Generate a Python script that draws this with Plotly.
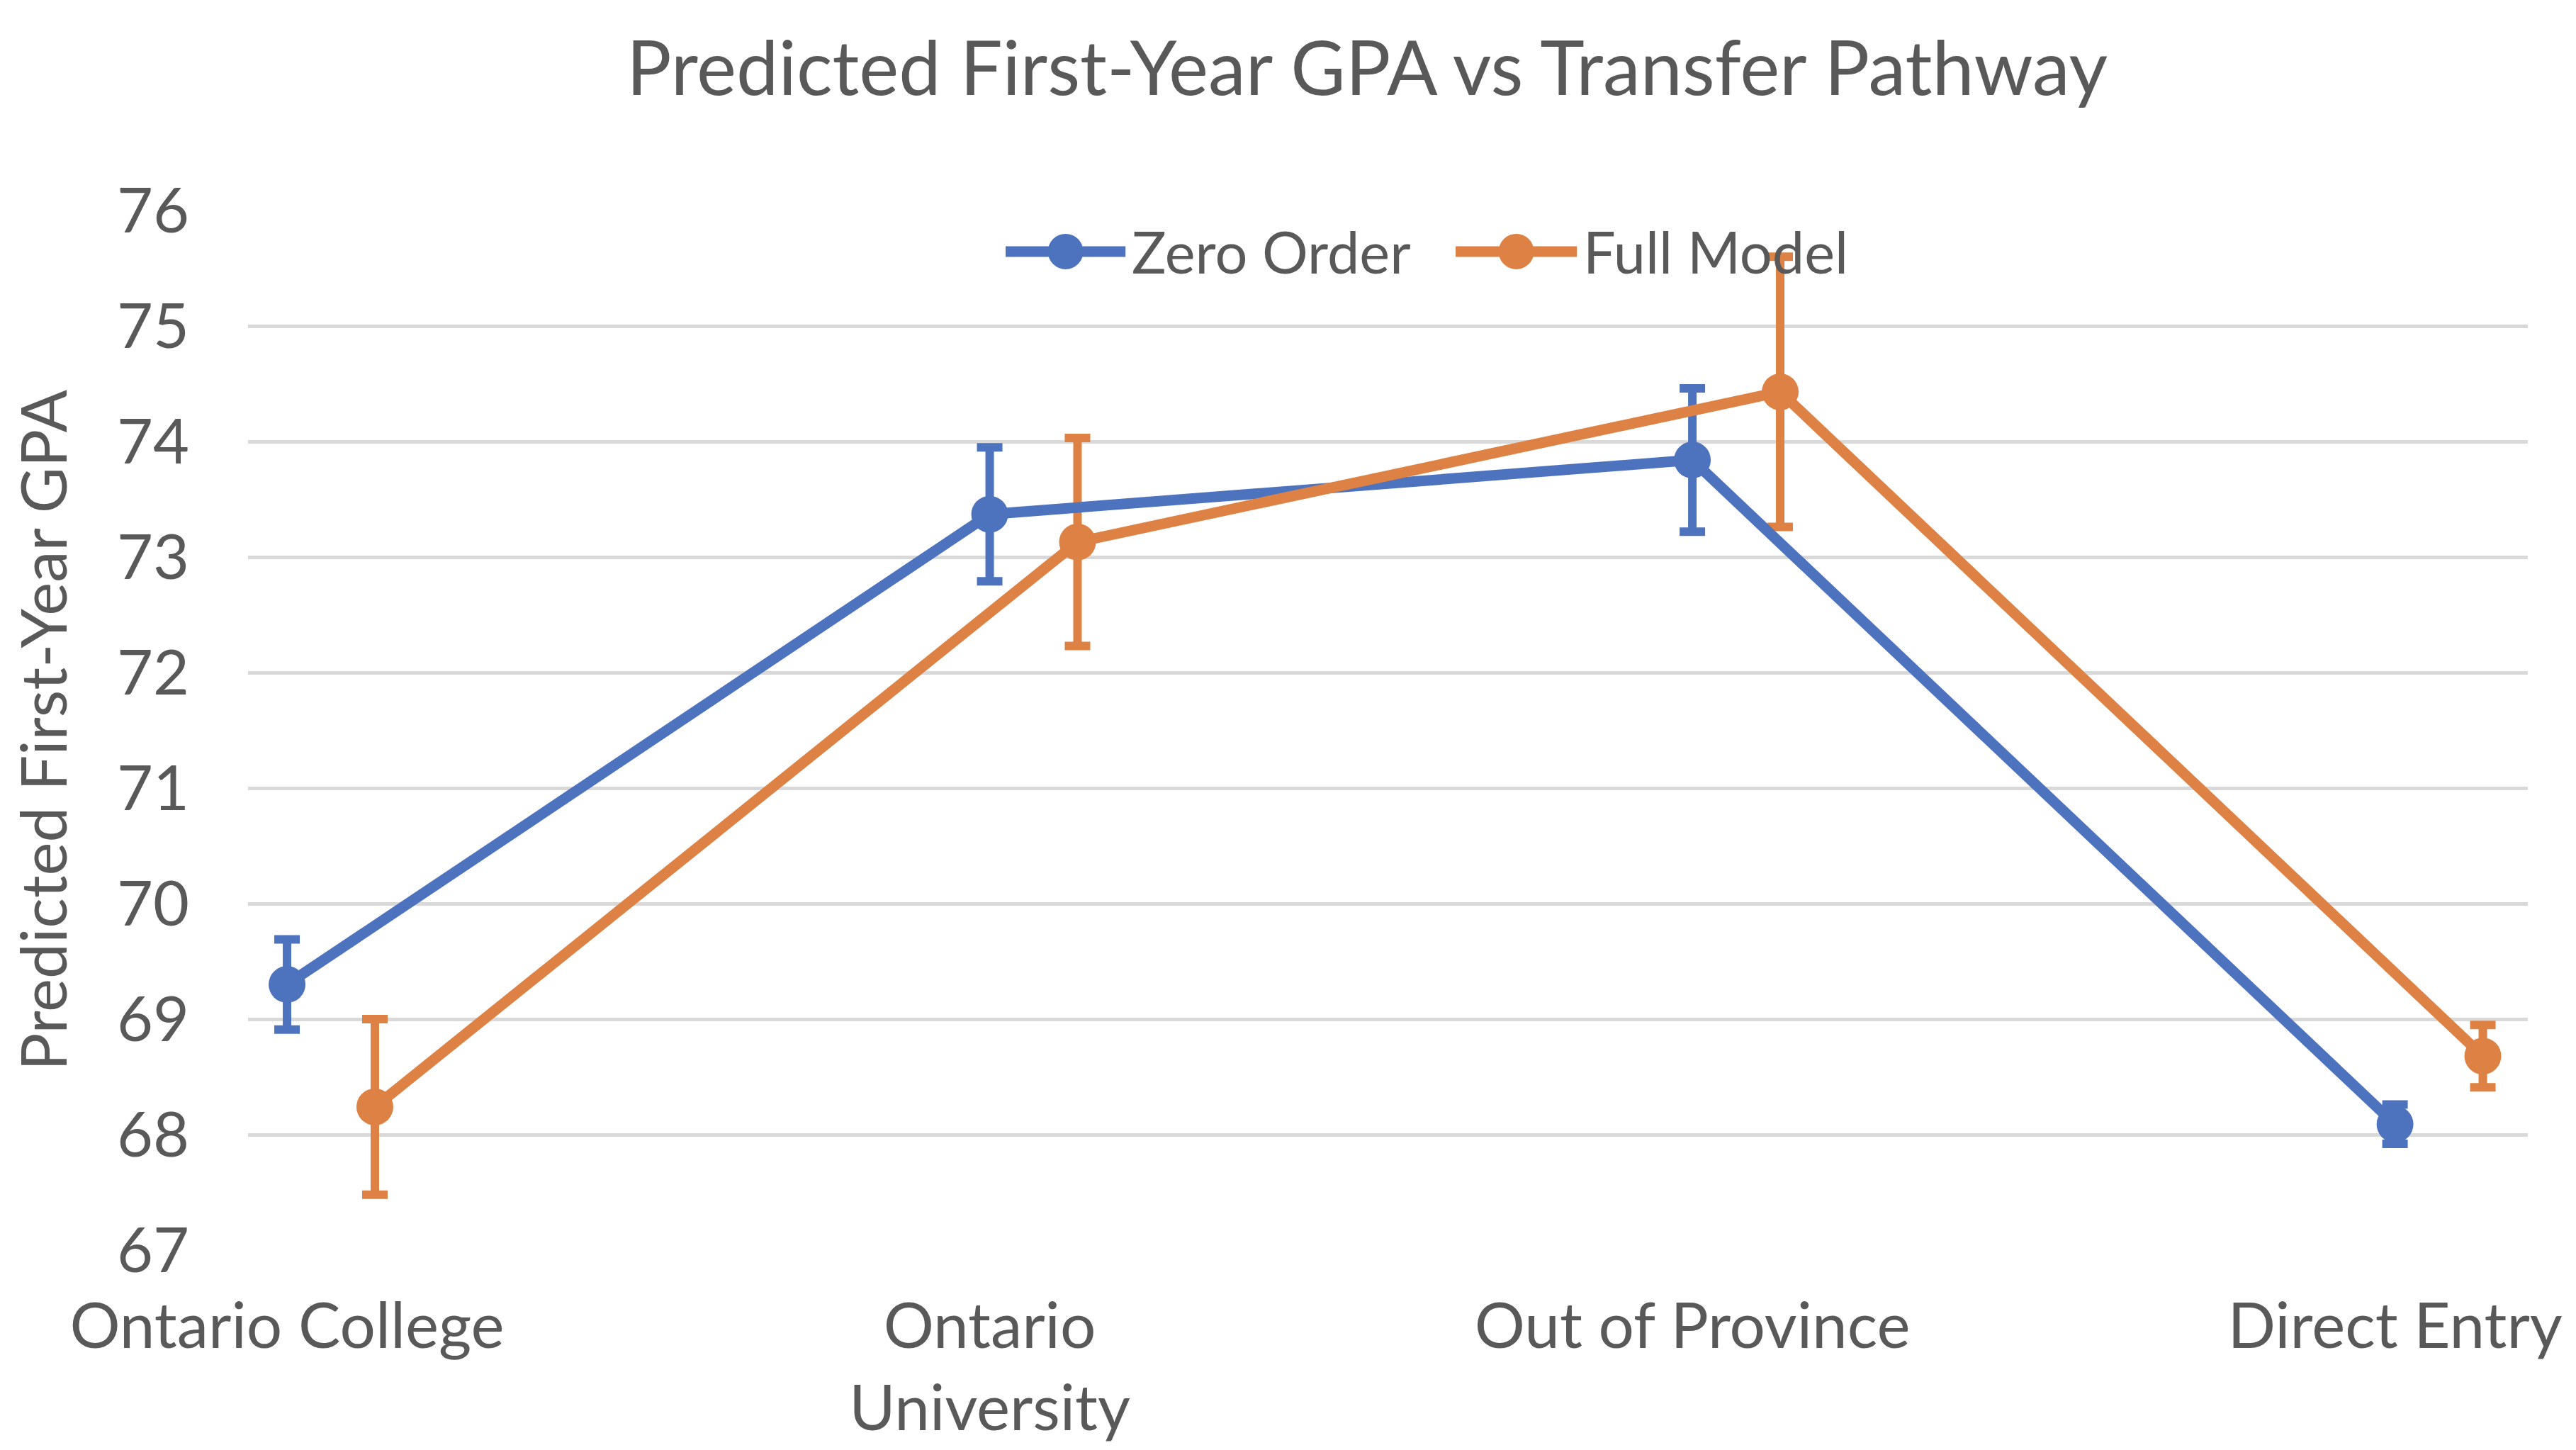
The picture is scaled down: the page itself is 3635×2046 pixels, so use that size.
import plotly.graph_objects as go

# ---- data ----
categories = ["Ontario College", "Ontario<br>University", "Out of Province", "Direct Entry"]
category_positions = [1, 2, 3, 4]
full_model_offset = 0.125

zero_order = [69.30, 73.37, 73.84, 68.09]
zero_order_err = [0.39, 0.58, 0.62, 0.17]

full_model = [68.24, 73.13, 74.43, 68.68]
full_model_err = [0.76, 0.90, 1.17, 0.27]

y_ticks = [67, 68, 69, 70, 71, 72, 73, 74, 75, 76]

# ---- style ----
BLUE = "#4E73BE"
ORANGE = "#DD8244"
TEXT = "#595959"
GRID = "#D9D9D9"
FONT = "Lato"

x_zero = category_positions
x_full = [p + full_model_offset for p in category_positions]

fig = go.Figure()

# error bars first (drawn beneath the lines)
for xs, ys, errs, col in [
    (x_zero, zero_order, zero_order_err, BLUE),
    (x_full, full_model, full_model_err, ORANGE),
]:
    fig.add_trace(go.Scatter(
        x=xs, y=ys, mode="markers", showlegend=False, hoverinfo="skip",
        marker=dict(size=1, opacity=0),
        error_y=dict(type="data", array=errs, visible=True,
                     color=col, thickness=12, width=18),
    ))

fig.add_trace(go.Scatter(
    x=x_zero, y=zero_order, mode="lines+markers", name="Zero Order",
    line=dict(color=BLUE, width=15), marker=dict(color=BLUE, size=52),
    showlegend=False,
))
fig.add_trace(go.Scatter(
    x=x_full, y=full_model, mode="lines+markers", name="Full Model",
    line=dict(color=ORANGE, width=15), marker=dict(color=ORANGE, size=52),
    showlegend=False,
))

# custom legend (large symbols like the original)
leg_y = 0.9605
legend_items = [
    ("Zero Order", BLUE, 0.3323, 0.3849, 0.3586, 0.387),
    ("Full Model", ORANGE, 0.5297, 0.5829, 0.5563, 0.585),
]
shapes = []
annotations = []
for label, col, x0, x1, xc, xt in legend_items:
    shapes.append(dict(type="line", xref="paper", yref="paper",
                       x0=x0, x1=x1, y0=leg_y, y1=leg_y,
                       line=dict(color=col, width=15)))
    shapes.append(dict(type="circle", xref="paper", yref="paper",
                       xsizemode="pixel", ysizemode="pixel",
                       xanchor=xc, yanchor=leg_y,
                       x0=-25, x1=25, y0=-25, y1=25,
                       fillcolor=col, line=dict(width=0)))
    annotations.append(dict(text=label, xref="paper", yref="paper",
                            x=xt, y=leg_y, xanchor="left", yanchor="middle",
                            showarrow=False,
                            font=dict(family=FONT, size=81, color=TEXT)))

fig.update_layout(
    width=3635, height=2046,
    paper_bgcolor="white", plot_bgcolor="white",
    margin=dict(l=350, r=68, t=297, b=282, autoexpand=False),
    font=dict(family=FONT, color=TEXT, size=88),
    title=dict(text="Predicted First-Year GPA vs Transfer Pathway",
               x=0.5307, xref="container", xanchor="center",
               y=0.9526, yref="container", yanchor="middle",
               font=dict(family=FONT, size=106, color=TEXT)),
    xaxis=dict(
        range=[0.9445, 4.189], automargin=False,
        tickmode="array", tickvals=category_positions, ticktext=categories,
        showgrid=False, zeroline=False, showline=False, ticks="",
        tickfont=dict(family=FONT, size=89, color=TEXT),
        ticklabelstandoff=48,
    ),
    yaxis=dict(
        range=[67, 76], automargin=False,
        tickmode="array", tickvals=y_ticks,
        showgrid=True, gridcolor=GRID, gridwidth=5,
        zeroline=False, showline=False, ticks="",
        tickfont=dict(family=FONT, size=88, color=TEXT),
        ticklabelstandoff=82,
        title=dict(text="Predicted First-Year GPA",
                   font=dict(family=FONT, size=89, color=TEXT),
                   standoff=40),
    ),
    shapes=shapes,
    annotations=annotations,
    showlegend=False,
)

fig.write_html("out.html",
               config={"displayModeBar": False},
               post_script="document.body.style.margin='0';document.body.style.overflow='hidden';")
